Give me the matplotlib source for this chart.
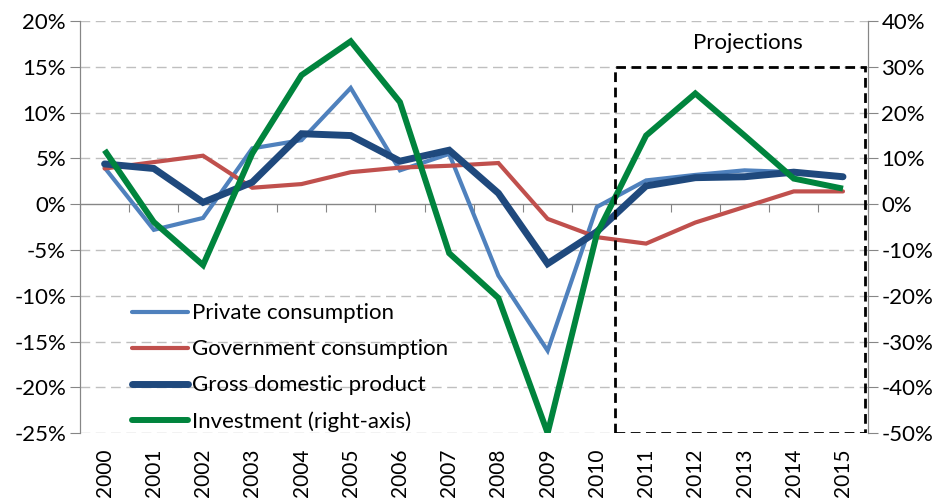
import numpy as np
import matplotlib
matplotlib.use('Agg')
import matplotlib.pyplot as plt
from matplotlib.patches import Rectangle
from matplotlib.ticker import FuncFormatter, NullFormatter

plt.rcParams['font.family'] = ['Lato', 'DejaVu Sans']

years = [str(y) for y in range(2000, 2016)]
private_cons = [4.0, -2.8, -1.5, 6.1, 7.0, 12.7, 3.7, 5.5, -7.8, -16.0, -0.3, 2.6, 3.2, 3.7, 3.5, 3.0]
gov_cons = [3.9, 4.6, 5.3, 1.8, 2.2, 3.5, 4.0, 4.2, 4.5, -1.6, -3.6, -4.3, -2.0, -0.3, 1.4, 1.4]
gdp = [4.4, 3.9, 0.2, 2.4, 7.7, 7.5, 4.7, 5.9, 1.2, -6.5, -3.0, 2.0, 2.9, 3.0, 3.5, 3.0]
investment = [11.8, -3.9, -13.3, 11.1, 28.2, 35.6, 22.3, -10.7, -20.5, -50.0, -6.5, 15.0, 24.2, 15.0, 5.6, 3.4]

labels = ['Private consumption', 'Government consumption',
          'Gross domestic product', 'Investment (right-axis)']
colors = ['#4F81BD', '#C0504D', '#1F497D', '#00843D']

FS = 16
grey = '#868686'

fig = plt.figure(figsize=(9.41, 5.03), dpi=100)
ax = fig.add_axes([0.085, 0.139, 0.837, 0.819])
ax2 = ax.twinx()

x = np.arange(len(years))
l1, = ax.plot(x, private_cons, color=colors[0], lw=3.0, solid_capstyle='round', solid_joinstyle='miter')
l2, = ax.plot(x, gov_cons, color=colors[1], lw=3.0, solid_capstyle='round', solid_joinstyle='miter')
l3, = ax.plot(x, gdp, color=colors[2], lw=5.0, solid_capstyle='round', solid_joinstyle='miter')
l4, = ax2.plot(x, investment, color=colors[3], lw=4.3, solid_capstyle='butt', solid_joinstyle='miter')

ax.set_xlim(-0.5, 15.5)
ax.set_ylim(-25, 20)
ax2.set_ylim(-50, 40)
ax.set_yticks(np.arange(-25, 21, 5))
ax2.set_yticks(np.arange(-50, 41, 10))
pct = FuncFormatter(lambda v, p: f'{v:.0f}%')
ax.yaxis.set_major_formatter(pct)
ax2.yaxis.set_major_formatter(pct)

# gridlines
for v in np.arange(-25, 21, 5):
    if v != 0:
        ax.axhline(v, color='#BFBFBF', lw=1.0, ls=(0, (7, 4)), zorder=0)
ax.axhline(0, color=grey, lw=1.0, zorder=0.5)

# x labels at bottom, tick marks on the zero line
ax.set_xticks(x)
ax.set_xticklabels(years, rotation=90, fontsize=15)
ax.tick_params(axis='x', length=0, pad=11)
sec = ax.secondary_xaxis(25 / 45)
sec.xaxis.set_ticks_position('bottom')
sec.set_xticks(np.arange(-0.5, 16, 1))
sec.xaxis.set_major_formatter(NullFormatter())
sec.tick_params(axis='x', direction='out', length=6, color=grey)
sec.spines['bottom'].set_visible(False)
sec.spines['top'].set_visible(False)

for a in (ax, ax2):
    a.spines['top'].set_visible(False)
    a.spines['bottom'].set_visible(False)
    a.spines['left'].set_color(grey)
    a.spines['right'].set_color(grey)
ax.tick_params(axis='y', direction='out', length=7, color=grey, labelsize=FS, pad=3)
ax2.tick_params(axis='y', direction='out', length=7, color=grey, labelsize=FS, pad=3)

# projections box
box = Rectangle((10.36, -50), 15.45 - 10.36, 80, fill=False, ec='black', lw=2.0,
                ls=(0, (3.5, 2)), zorder=5)
ax2.add_patch(box)
ax2.text(13.06, 35.2, 'Projections', ha='center', va='center', fontsize=FS)

leg = ax.legend([l1, l2, l3, l4], labels, loc='upper left', bbox_to_anchor=(0.066, 0.315),
                frameon=False, fontsize=FS, handlelength=2.5, handletextpad=0.2,
                labelspacing=0.72, borderaxespad=0, borderpad=0)
for h in leg.get_lines():
    h.set_solid_capstyle('round')
leg.set_zorder(10)

fig.savefig('out.png', dpi=100)
